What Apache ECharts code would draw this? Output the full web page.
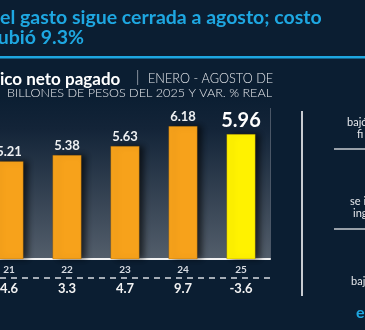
<!DOCTYPE html>
<html><head><meta charset="utf-8">
<script src="https://cdn.jsdelivr.net/npm/echarts@6/dist/echarts.min.js"></script>
<style>html,body{margin:0;padding:0;background:#0b1e32;}#c{width:365px;height:330px;}</style>
</head><body><div id="c"></div>
<script>
const years = ['21', '22', '23', '24', '25'];
const values = [5.21, 5.38, 5.63, 6.18, 5.96];
const realVar = ['4.6', '3.3', '4.7', '9.7', '-3.6'];
const titleLine1 = 'el gasto sigue cerrada a agosto; costo';
const titleLine2 = 'subió 9.3%';
const subBold = 'ico neto pagado';
const subThin = 'ENERO - AGOSTO DE';
const subLine2 = 'BILLONES DE PESOS DEL 2025 Y VAR. % REAL';
const sideTexts = [['bajó', 347, 123], ['fi', 357, 135], ['se in', 350, 202], ['ing', 353, 214], ['baj', 351, 282]];

const chart = echarts.init(document.getElementById('c'), null, {renderer: 'canvas'});
const FONT = 'Lato, "Open Sans", sans-serif';
chart.setOption({
  backgroundColor: '#0b1e32',
  animation: false,
  grid: {left: -20, width: 290, top: 96.5, bottom: 71, outerBoundsMode: 'none', containLabel: false},
  xAxis: {
    type: 'category', data: years,
    axisLine: {lineStyle: {color: '#f2f2f2', width: 2}},
    axisTick: {show: false},
    axisLabel: {
      interval: 0, margin: 5,
      formatter: function (v, i) { return '{y|' + v + '}\n{v|' + realVar[i] + '}'; },
      rich: {
        y: {color: '#d8dce2', fontSize: 10, fontFamily: FONT, fontWeight: 'bold', lineHeight: 12},
        v: {color: '#f2f2f2', fontSize: 13, fontFamily: FONT, fontWeight: 'bold', lineHeight: 20, padding: [6, 0, 0, 0]}
      }
    }
  },
  yAxis: {type: 'value', min: 2.5, max: 7, show: false, splitLine: {show: false}},
  graphic: [
    {type: 'rect', z: -10, shape: {x: 0, y: 96, width: 270, height: 163},
      style: {fill: new echarts.graphic.LinearGradient(0, 0, 0, 1, [
        {offset: 0, color: '#0b1e32'}, {offset: 0.2, color: '#132438'},
        {offset: 1, color: '#535e6b'}])}},
    {type: 'line', z: -5, shape: {x1: 270.5, y1: 108, x2: 270.5, y2: 259}, style: {stroke: '#4a5666', lineWidth: 1}},
    {type: 'text', x: 0, y: 8, style: {text: titleLine1, fill: '#1ea7e1', font: 'bold 19.5px ' + FONT}},
    {type: 'text', x: 84, y: 28, style: {text: titleLine2, fill: '#1ea7e1', font: 'bold 19.5px ' + FONT, textAlign: 'right'}},
    {type: 'rect', shape: {x: 0, y: 56, width: 365, height: 2.5}, style: {fill: '#1ea7e1'}},
    {type: 'text', x: 0, y: 71, style: {text: subBold, fill: '#ffffff', font: 'bold 17px ' + FONT}},
    {type: 'text', x: 136, y: 70, style: {text: '|', fill: '#d0d4da', font: '300 15px ' + FONT}},
    {type: 'text', x: 148, y: 72, style: {text: subThin, fill: '#e6e8ec', font: '300 12.7px ' + FONT}},
    {type: 'text', x: 7, y: 86, style: {text: subLine2, fill: '#e6e8ec', font: '300 12.6px ' + FONT}},
    {type: 'line', shape: {x1: 0, y1: 278, x2: 270, y2: 278}, style: {stroke: '#d8dce2', lineWidth: 1.5, lineDash: [6, 5]}},
    {type: 'line', shape: {x1: 302, y1: 111, x2: 302, y2: 296}, style: {stroke: '#c8ccd2', lineWidth: 2}},
    {type: 'line', shape: {x1: 334, y1: 149, x2: 365, y2: 149}, style: {stroke: '#c8ccd2', lineWidth: 1.5}},
    {type: 'line', shape: {x1: 334, y1: 229, x2: 365, y2: 229}, style: {stroke: '#c8ccd2', lineWidth: 1.5}},
    {type: 'text', x: 356, y: 305, style: {text: 'e', fill: '#1ea7e1', font: 'bold 16px ' + FONT}}
  ].concat(sideTexts.map(function (t) {
    return {type: 'text', x: t[1], y: t[2] - 6, style: {text: t[0], fill: '#e6e8ec', font: '11px ' + FONT}};
  })),
  series: [{
    type: 'bar', data: values.map(function (v, i) {
      const last = i === values.length - 1;
      return {
        value: v,
        itemStyle: {color: last ? '#fff200' : '#f7a21b'},
        label: last ? {fontSize: 20, color: '#ffffff', distance: 4} : {}
      };
    }),
    barWidth: 29,
    itemStyle: {shadowColor: 'rgba(0,0,0,0.6)', shadowOffsetX: 5, shadowBlur: 6, borderColor: 'rgba(120,70,0,0.5)', borderWidth: 0.5},
    label: {show: true, position: 'top', distance: 3, color: '#eef0f2', fontSize: 13, fontWeight: 'bold', fontFamily: FONT,
      formatter: function (p) { return p.value.toFixed(2); }}
  }]
});
</script></body></html>
